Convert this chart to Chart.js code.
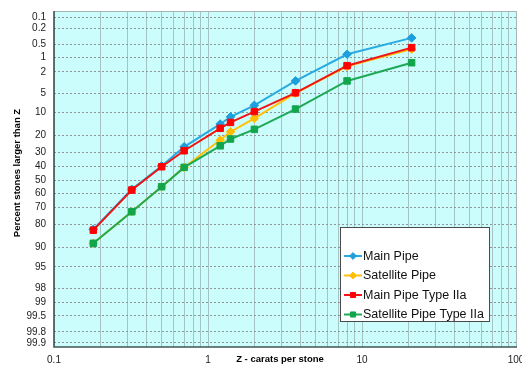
<!DOCTYPE html>
<html>
<head>
<meta charset="utf-8">
<script src="https://cdn.jsdelivr.net/npm/chart.js@4/dist/chart.umd.min.js"></script>
<style>
  html, body { margin: 0; padding: 0; background: #ffffff; }
  #wrap { width: 522px; height: 366px; position: relative; }
</style>
</head>
<body>
<div id="wrap"><canvas id="chart"></canvas></div>
<script>
// Stone size (carats per stone) at each sieve class
const sizes = [0.18, 0.32, 0.5, 0.7, 1.2, 1.4, 2, 3.7, 8, 21];

// Cumulative percent of stones larger than Z, per population
const mainPipe         = [82.5, 57, 39.5, 26.4, 14.4, 11.5, 7.8, 3.0, 0.85, 0.35];
const satellitePipe    = [88.5, 72.6, 55, 40.5, 22.4, 18.0, 12.1, 4.95, 1.55, 0.65];
const mainPipeIIa      = [82.9, 57.5, 40, 28.9, 16.3, 13.7, 9.7, 4.9, 1.5, 0.6];
const satellitePipeIIa = [88.5, 72.6, 55, 40.5, 25.8, 21.8, 16.8, 8.9, 3.0, 1.3];

const seriesNames = ['Main Pipe', 'Satellite Pipe', 'Main Pipe Type IIa', 'Satellite Pipe Type IIa'];

// Probability axis ticks (percent) and carat axis grid / labels
const percentTicks = [0.1, 0.2, 0.5, 1, 2, 5, 10, 20, 30, 40, 50, 60, 70, 80, 90, 95, 98, 99, 99.5, 99.8, 99.9];
const percentMin = 0.067;
const percentMax = 99.923;
const caratGrid = [0.1, 0.2, 0.3, 0.4, 0.5, 0.6, 0.7, 0.8, 0.9,
                   1, 2, 3, 4, 5, 6, 7, 8, 9,
                   10, 20, 30, 40, 50, 60, 70, 80, 90, 100];
const caratLabels = [0.1, 1, 10, 100];

// Inverse standard normal CDF (Acklam's rational approximation)
function probit(p) {
  const a = [-3.969683028665376e+01, 2.209460984245205e+02, -2.759285104469687e+02, 1.383577518672690e+02, -3.066479806614716e+01, 2.506628277459239e+00];
  const b = [-5.447609879822406e+01, 1.615858368580409e+02, -1.556989798598866e+02, 6.680131188771972e+01, -1.328068155288572e+01];
  const c = [-7.784894002430293e-03, -3.223964580411365e-01, -2.400758277161838e+00, -2.549732539343734e+00, 4.374664141464968e+00, 2.938163982698783e+00];
  const d = [7.784695709041462e-03, 3.224671290700398e-01, 2.445134137142996e+00, 3.754408661907416e+00];
  const pl = 0.02425, ph = 1 - pl;
  let q, r;
  if (p < pl) {
    q = Math.sqrt(-2 * Math.log(p));
    return (((((c[0]*q+c[1])*q+c[2])*q+c[3])*q+c[4])*q+c[5]) / ((((d[0]*q+d[1])*q+d[2])*q+d[3])*q+1);
  }
  if (p <= ph) {
    q = p - 0.5; r = q * q;
    return (((((a[0]*r+a[1])*r+a[2])*r+a[3])*r+a[4])*r+a[5])*q / (((((b[0]*r+b[1])*r+b[2])*r+b[3])*r+b[4])*r+1);
  }
  q = Math.sqrt(-2 * Math.log(1 - p));
  return -(((((c[0]*q+c[1])*q+c[2])*q+c[3])*q+c[4])*q+c[5]) / ((((d[0]*q+d[1])*q+d[2])*q+d[3])*q+1);
}

// Standard normal CDF (Abramowitz-Stegun erf approximation)
function normCdf(z) {
  const t = 1 / (1 + 0.3275911 * Math.abs(z) / Math.SQRT2);
  const y = 1 - (((((1.061405429*t - 1.453152027)*t) + 1.421413741)*t - 0.284496736)*t + 0.254829592)*t * Math.exp(-z*z/2);
  return z >= 0 ? 0.5 * (1 + y) : 0.5 * (1 - y);
}

// Normal-probability scale: values in percent, spaced by their normal quantile
class ProbitScale extends Chart.LinearScale {
  determineDataLimits() {
    this.min = probit(percentMin / 100);
    this.max = probit(percentMax / 100);
  }
  buildTicks() {
    return percentTicks.map(v => ({ value: v }));
  }
  getPixelForValue(value) {
    if (value === null || value === undefined) return NaN;
    return super.getPixelForValue(probit(value / 100));
  }
  getValueForPixel(pixel) {
    return 100 * normCdf(super.getValueForPixel(pixel));
  }
}
ProbitScale.id = 'probit';
ProbitScale.defaults = {};
Chart.register(ProbitScale);

const styles = [
  { line: '#27abe2', fill: '#1c9fdc', shape: 'rectRot', r: 4.3, order: 3 },
  { line: '#ffc20a', fill: '#ffbf00', shape: 'rectRot', r: 4.3, order: 2 },
  { line: '#f01414', fill: '#ff0000', shape: 'rect',    r: 4.6, order: 1 },
  { line: '#1ea956', fill: '#12a64c', shape: 'rect',    r: 4.6, order: 0 }
];
const series = [mainPipe, satellitePipe, mainPipeIIa, satellitePipeIIa];

const datasets = series.map((vals, i) => ({
  label: seriesNames[i],
  data: sizes.map((s, k) => ({ x: s, y: vals[k] })),
  borderColor: styles[i].line,
  backgroundColor: styles[i].fill,
  pointBackgroundColor: styles[i].fill,
  pointBorderColor: styles[i].fill,
  pointStyle: styles[i].shape,
  pointRadius: styles[i].r,
  pointBorderWidth: 1,
  borderWidth: 2,
  tension: 0,
  fill: false,
  order: styles[i].order
}));

const FONT = '"Liberation Sans", Arial, sans-serif';

const framePlugin = {
  id: 'frame',
  beforeDraw(chart) {
    const { ctx, chartArea: a } = chart;
    ctx.save();
    ctx.fillStyle = '#ffffff';
    ctx.fillRect(0, 0, chart.width, chart.height);
    ctx.fillStyle = '#ccfdfd';
    ctx.fillRect(a.left, a.top, a.right - a.left, a.bottom - a.top);
    ctx.restore();
  },
  beforeDatasetsDraw(chart) {
    const { ctx, chartArea: a } = chart;
    ctx.save();
    ctx.lineWidth = 1;
    ctx.strokeStyle = '#a9b4b4';
    ctx.beginPath();
    ctx.moveTo(a.left, a.top + 0.5);
    ctx.lineTo(a.right + 0.5, a.top + 0.5);
    ctx.lineTo(a.right + 0.5, a.bottom);
    ctx.stroke();
    ctx.lineWidth = 1.6;
    ctx.strokeStyle = '#3f5552';
    ctx.beginPath();
    ctx.moveTo(a.left, a.top);
    ctx.lineTo(a.left, a.bottom);
    ctx.lineTo(a.right + 1, a.bottom);
    ctx.stroke();
    ctx.restore();
  },
  afterDraw(chart) {
    const { ctx, chartArea: a } = chart;
    ctx.save();
    // axis titles
    ctx.fillStyle = '#000000';
    ctx.font = 'bold 9.5px ' + FONT;
    ctx.textAlign = 'center';
    ctx.textBaseline = 'middle';
    ctx.fillText('Z - carats per stone', a.left + 226, a.bottom + 12);
    ctx.translate(17, a.top + 162);
    ctx.rotate(-Math.PI / 2);
    ctx.fillText('Percent stones larger than Z', 0, 0);
    ctx.restore();

    // legend box
    const bx = a.right - 176, by = a.bottom - 120, bw = 149, bh = 94;
    ctx.save();
    ctx.fillStyle = '#ffffff';
    ctx.fillRect(bx, by, bw, bh);
    ctx.strokeStyle = '#4a4a4a';
    ctx.lineWidth = 1;
    ctx.strokeRect(bx + 0.5, by + 0.5, bw, bh);
    ctx.font = '12.5px ' + FONT;
    ctx.textAlign = 'left';
    ctx.textBaseline = 'middle';
    chart.data.datasets.forEach((ds, i) => {
      const y = by + 29 + i * 19.5;
      ctx.strokeStyle = ds.borderColor;
      ctx.lineWidth = 2;
      ctx.beginPath();
      ctx.moveTo(bx + 4, y);
      ctx.lineTo(bx + 22, y);
      ctx.stroke();
      ctx.fillStyle = ds.pointBackgroundColor;
      ctx.strokeStyle = ds.pointBorderColor;
      ctx.lineWidth = 1;
      Chart.helpers.drawPoint(ctx, {
        pointStyle: ds.pointStyle,
        radius: ds.pointStyle === 'rect' ? 3.6 : 3.4,
        borderWidth: 1,
        rotation: 0
      }, bx + 13, y);
      ctx.fillStyle = '#111111';
      ctx.fillText(ds.label, bx + 23, y + 0.5);
    });
    ctx.restore();
  }
};

new Chart(document.getElementById('chart'), {
  type: 'line',
  data: { datasets },
  options: {
    responsive: true,
    maintainAspectRatio: false,
    animation: false,
    devicePixelRatio: 1,
    layout: { padding: { top: 11, right: 6, bottom: 0, left: 0 } },
    plugins: {
      legend: { display: false },
      tooltip: { enabled: false }
    },
    scales: {
      x: {
        type: 'logarithmic',
        min: 0.1,
        max: 100,
        afterBuildTicks(scale) {
          scale.ticks = caratGrid.map(v => ({ value: v }));
        },
        afterFit(scale) {
          scale.height = 19;
          scale.paddingLeft = 0;
          scale.paddingRight = 0;
        },
        ticks: {
          autoSkip: false,
          maxRotation: 0,
          padding: 7,
          color: '#222222',
          font: { family: FONT, size: 10 },
          callback: (v) => caratLabels.includes(v) ? String(v) : ''
        },
        grid: { color: '#a6c3c6', lineWidth: 1, drawTicks: false },
        border: { display: false }
      },
      y: {
        type: 'probit',
        position: 'left',
        reverse: true,
        afterFit(scale) {
          scale.width = 54;
          scale.paddingTop = 0;
          scale.paddingBottom = 0;
        },
        ticks: {
          autoSkip: false,
          padding: 8,
          color: '#222222',
          font: { family: FONT, size: 10 },
          callback: (v) => String(v)
        },
        grid: { color: '#8f9696', lineWidth: 1, drawTicks: false },
        border: { display: false, dash: [2, 2] }
      }
    }
  },
  plugins: [framePlugin]
});
</script>
</body>
</html>
